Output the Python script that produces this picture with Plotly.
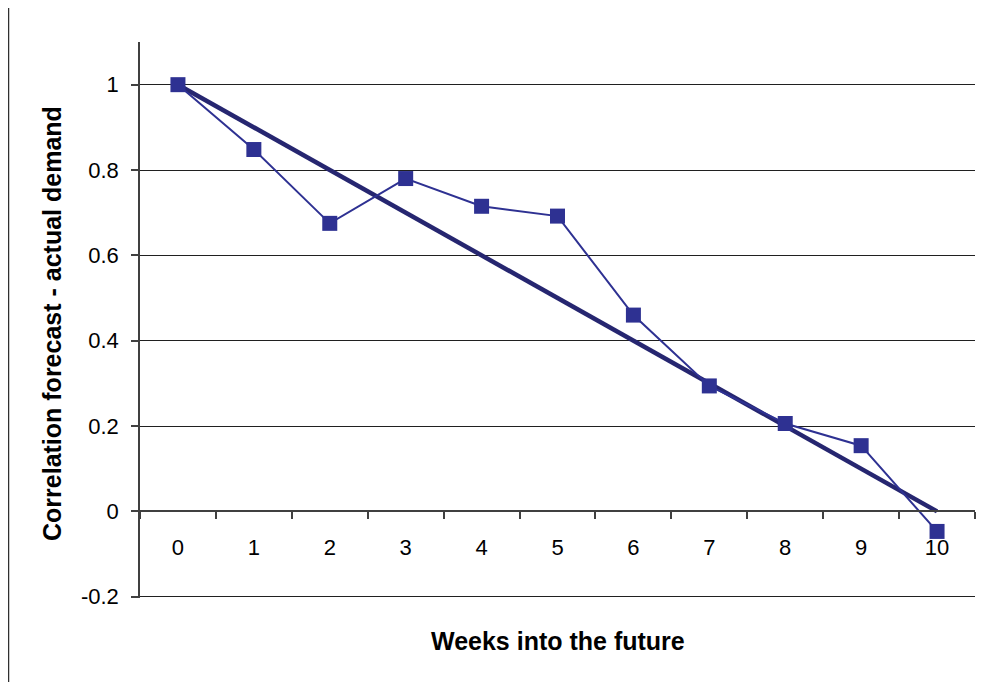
import plotly.graph_objects as go

weeks = ["0", "1", "2", "3", "4", "5", "6", "7", "8", "9", "10"]
correlation = [1.0, 0.848, 0.675, 0.780, 0.715, 0.692, 0.460, 0.294, 0.206, 0.154, -0.047]
trend_x = ["0", "10"]
trend_y = [1.0, 0.0]
y_ticks = [-0.2, 0, 0.2, 0.4, 0.6, 0.8, 1]
y_tick_labels = ["-0.2", "0", "0.2", "0.4", "0.6", "0.8", "1"]

# page has an 8px body margin; figure sized so plot area lands at page x 140..975, y 42..597
OFF = 8
W, H = 984 - OFF, 682 - OFF
L, R, T, B = 140 - OFF, 9, 42 - OFF, 84
pw, ph = W - L - R, H - T - B

fig = go.Figure()
fig.add_trace(go.Scatter(
    x=trend_x, y=trend_y, mode="lines",
    line=dict(color="#262670", width=4.5),
    hoverinfo="skip", showlegend=False))
fig.add_trace(go.Scatter(
    x=weeks, y=correlation, mode="lines+markers",
    line=dict(color="#2E3192", width=2),
    marker=dict(symbol="square", size=15, color="#2E3192", line=dict(width=0)),
    showlegend=False))

ymin, ymax = -0.203, 1.1
fig.update_layout(
    width=W, height=H,
    margin=dict(l=L, r=R, t=T, b=B),
    paper_bgcolor="white", plot_bgcolor="white",
    font=dict(family="Liberation Sans, Arial, sans-serif", color="black", size=22),
    xaxis=dict(
        type="category", categoryorder="array", categoryarray=weeks,
        range=[-0.5, 10.5],
        anchor="free", position=(0 - ymin) / (ymax - ymin),
        showline=True, linecolor="#404040", linewidth=1.5,
        ticks="outside", tickson="boundaries", ticklen=7, tickcolor="#404040", tickwidth=1.5,
        ticklabelstandoff=16,
        showgrid=False, zeroline=False,
        tickfont=dict(size=22),
    ),
    yaxis=dict(
        range=[ymin, ymax],
        tickvals=y_ticks, ticktext=y_tick_labels,
        showline=True, linecolor="#404040", linewidth=1.5,
        ticks="outside", ticklen=7, tickcolor="#404040", tickwidth=1.5,
        ticklabelstandoff=8,
        showgrid=True, gridcolor="#202020", gridwidth=1,
        zeroline=False,
        tickfont=dict(size=22),
    ),
    annotations=[
        dict(text="<b>Weeks into the future</b>", xref="paper", yref="paper",
             x=0.5, y=-(640 - 597) / ph, xanchor="center", yanchor="middle",
             showarrow=False, font=dict(size=25)),
        dict(text="<b>Correlation forecast - actual demand</b>", xref="paper", yref="paper",
             x=(52 - 140) / pw, y=(597 - 323) / ph, xanchor="center", yanchor="middle",
             textangle=-90, showarrow=False, font=dict(size=25)),
    ],
    shapes=[
        dict(type="line", xref="paper", yref="paper",
             x0=(8 - 140) / pw, x1=(8 - 140) / pw, y0=-B / ph, y1=1 + T / ph,
             line=dict(color="#303030", width=2.5)),
    ],
)

fig.write_html("out.html")
